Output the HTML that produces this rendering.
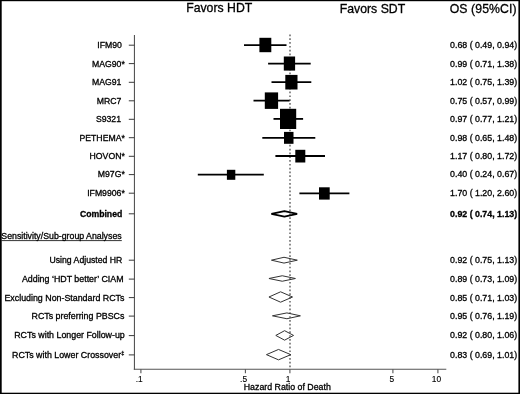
<!DOCTYPE html>
<html lang="en"><head><meta charset="utf-8"><title>Forest plot</title>
<style>
html,body{margin:0;padding:0;background:#fff;}
body{width:520px;height:394px;overflow:hidden;position:relative;}
svg{position:absolute;left:0;top:0;display:block;}
text{font-family:"Liberation Sans",Arial,Helvetica,sans-serif;fill:#000;stroke:#000;stroke-width:0.3px;}
.t{font-size:8.80px;}.l{font-size:8.85px;}.s{font-size:8.68px;}
.h{font-size:12.25px;}
.b{font-weight:bold;}
.a{font-size:8.4px;stroke-width:0.12px;}
</style></head><body>
<svg width="520" height="394" viewBox="0 0 520 394">
<rect x="0" y="0" width="520" height="394" fill="#fff"/>
<g stroke="#555" stroke-width="1.1" fill="none">
<line x1="134.45" y1="35" x2="134.45" y2="369.8"/>
<line x1="133.8" y1="369.2" x2="446.3" y2="369.2"/>
<line x1="128.8" y1="45.2" x2="134.4" y2="45.2" stroke-width="1" stroke="#3a3a3a"/>
<line x1="128.8" y1="63.6" x2="134.4" y2="63.6" stroke-width="1" stroke="#3a3a3a"/>
<line x1="128.8" y1="82.3" x2="134.4" y2="82.3" stroke-width="1" stroke="#3a3a3a"/>
<line x1="128.8" y1="100.8" x2="134.4" y2="100.8" stroke-width="1" stroke="#3a3a3a"/>
<line x1="128.8" y1="119.3" x2="134.4" y2="119.3" stroke-width="1" stroke="#3a3a3a"/>
<line x1="128.8" y1="137.7" x2="134.4" y2="137.7" stroke-width="1" stroke="#3a3a3a"/>
<line x1="128.8" y1="156.3" x2="134.4" y2="156.3" stroke-width="1" stroke="#3a3a3a"/>
<line x1="128.8" y1="174.6" x2="134.4" y2="174.6" stroke-width="1" stroke="#3a3a3a"/>
<line x1="128.8" y1="193.2" x2="134.4" y2="193.2" stroke-width="1" stroke="#3a3a3a"/>
<line x1="128.8" y1="213.8" x2="134.4" y2="213.8" stroke-width="1" stroke="#3a3a3a"/>
<line x1="128.8" y1="260.2" x2="134.4" y2="260.2" stroke-width="1" stroke="#3a3a3a"/>
<line x1="128.8" y1="279.1" x2="134.4" y2="279.1" stroke-width="1" stroke="#3a3a3a"/>
<line x1="128.8" y1="297.6" x2="134.4" y2="297.6" stroke-width="1" stroke="#3a3a3a"/>
<line x1="128.8" y1="316.1" x2="134.4" y2="316.1" stroke-width="1" stroke="#3a3a3a"/>
<line x1="128.8" y1="335.6" x2="134.4" y2="335.6" stroke-width="1" stroke="#3a3a3a"/>
<line x1="128.8" y1="354.9" x2="134.4" y2="354.9" stroke-width="1" stroke="#3a3a3a"/>
<line x1="140.9" y1="369.2" x2="140.9" y2="373.2"/>
<line x1="245.4" y1="369.2" x2="245.4" y2="373.2"/>
<line x1="289.9" y1="369.2" x2="289.9" y2="373.2"/>
<line x1="392.9" y1="369.2" x2="392.9" y2="373.2"/>
<line x1="437.9" y1="369.2" x2="437.9" y2="373.2"/>
</g>
<line x1="290" y1="34.5" x2="290" y2="368.5" stroke="#484848" stroke-width="1.25" stroke-dasharray="1.7 2.106"/>
<line x1="244.0" y1="45.1" x2="286.5" y2="45.1" stroke="#000" stroke-width="1.8"/>
<rect x="259.4" y="37.8" width="11.9" height="14.4" fill="#000"/>
<line x1="268.1" y1="63.6" x2="310.7" y2="63.6" stroke="#000" stroke-width="1.8"/>
<rect x="283.8" y="56.5" width="11.3" height="14.1" fill="#000"/>
<line x1="271.5" y1="82.2" x2="311.3" y2="82.2" stroke="#000" stroke-width="1.8"/>
<rect x="285.3" y="74.9" width="12.2" height="14.6" fill="#000"/>
<line x1="253.5" y1="100.6" x2="289.6" y2="100.6" stroke="#000" stroke-width="1.8"/>
<rect x="264.8" y="92.4" width="13.3" height="16.5" fill="#000"/>
<line x1="273.5" y1="118.9" x2="303.1" y2="118.9" stroke="#000" stroke-width="1.8"/>
<rect x="280.0" y="108.8" width="16.2" height="20.2" fill="#000"/>
<line x1="262.3" y1="137.8" x2="315.3" y2="137.8" stroke="#000" stroke-width="1.8"/>
<rect x="284.0" y="131.9" width="9.5" height="11.9" fill="#000"/>
<line x1="275.4" y1="156.0" x2="325.0" y2="156.0" stroke="#000" stroke-width="1.8"/>
<rect x="295.3" y="149.8" width="10.0" height="12.7" fill="#000"/>
<line x1="197.8" y1="174.7" x2="263.8" y2="174.7" stroke="#000" stroke-width="1.8"/>
<rect x="226.9" y="169.8" width="8.4" height="10.0" fill="#000"/>
<line x1="299.4" y1="193.4" x2="349.4" y2="193.4" stroke="#000" stroke-width="1.8"/>
<rect x="319.0" y="187.3" width="10.7" height="12.3" fill="#000"/>
<polygon points="271.36,213.88 284.40,211.18 297.14,213.88 284.40,216.57" fill="none" stroke="#000" stroke-width="1.80" stroke-linejoin="bevel"/>
<polygon points="271.45,260.18 284.00,257.27 297.30,260.18 284.00,263.08" fill="none" stroke="#333" stroke-width="1.00" stroke-linejoin="bevel"/>
<polygon points="268.95,278.50 282.25,275.76 295.40,278.50 282.25,281.24" fill="none" stroke="#333" stroke-width="1.00" stroke-linejoin="bevel"/>
<polygon points="268.95,297.00 280.60,291.81 292.55,297.00 280.60,302.19" fill="none" stroke="#333" stroke-width="1.00" stroke-linejoin="bevel"/>
<polygon points="272.45,315.82 286.90,312.91 300.40,315.82 286.90,318.74" fill="none" stroke="#333" stroke-width="1.00" stroke-linejoin="bevel"/>
<polygon points="275.80,335.43 284.60,330.68 293.55,335.43 284.60,340.17" fill="none" stroke="#333" stroke-width="1.00" stroke-linejoin="bevel"/>
<polygon points="266.45,354.65 278.50,349.45 290.80,354.65 278.50,359.85" fill="none" stroke="#333" stroke-width="1.00" stroke-linejoin="bevel"/>
<text class="h" x="186.2" y="11.9">Favors HDT</text>
<text class="h" x="339.8" y="12.5">Favors SDT</text>
<text class="h" x="449.7" y="12.6" letter-spacing="0.1">OS (95%CI)</text>
<text class="s" text-anchor="end" x="121.9" y="48.1">IFM90</text>
<text class="s" text-anchor="end" x="124.8" y="66.5">MAG90*</text>
<text class="s" text-anchor="end" x="121.4" y="85.2">MAG91</text>
<text class="s" text-anchor="end" x="121.4" y="103.6">MRC7</text>
<text class="s" text-anchor="end" x="121.0" y="122.2">S9321</text>
<text class="s" text-anchor="end" x="124.8" y="140.5">PETHEMA*</text>
<text class="s" text-anchor="end" x="124.8" y="159.2">HOVON*</text>
<text class="s" text-anchor="end" x="124.8" y="177.4">M97G*</text>
<text class="s" text-anchor="end" x="124.8" y="196.1">IFM9906*</text>
<text class="s b" text-anchor="end" x="122.3" y="216.7">Combined</text>
<text class="s" text-anchor="end" x="122.3" y="263.1">Using Adjusted HR</text>
<text class="l" text-anchor="end" x="123.5" y="282.0">Adding ‘HDT better’ CIAM</text>
<text class="l" text-anchor="end" x="124.4" y="300.5">Excluding Non-Standard RCTs</text>
<text class="l" text-anchor="end" x="124.4" y="319.0">RCTs preferring PBSCs</text>
<text class="l" text-anchor="end" x="124.8" y="338.4">RCTs with Longer Follow-up</text>
<text class="l" text-anchor="end" x="124.2" y="357.7">RCTs with Lower Crossover<tspan font-size="5.5px" dy="-3">‡</tspan></text>
<text class="l" style="font-size:8.78px" x="1.3" y="239.4">Sensitivity/Sub-group Analyses</text>
<line x1="1.5" y1="240.6" x2="121.8" y2="240.6" stroke="#000" stroke-width="0.8"/>
<text class="t" x="450.1" y="48.1">0.68 ( 0.49, 0.94)</text>
<text class="t" x="450.1" y="66.5">0.99 ( 0.71, 1.38)</text>
<text class="t" x="450.1" y="85.2">1.02 ( 0.75, 1.39)</text>
<text class="t" x="450.1" y="103.6">0.75 ( 0.57, 0.99)</text>
<text class="t" x="450.1" y="122.2">0.97 ( 0.77, 1.21)</text>
<text class="t" x="450.1" y="140.5">0.98 ( 0.65, 1.48)</text>
<text class="t" x="450.1" y="159.2">1.17 ( 0.80, 1.72)</text>
<text class="t" x="450.1" y="177.4">0.40 ( 0.24, 0.67)</text>
<text class="t" x="450.1" y="196.1">1.70 ( 1.20, 2.60)</text>
<text class="t b" x="450.1" y="216.7">0.92 ( 0.74, 1.13)</text>
<text class="t" x="450.1" y="263.1">0.92 ( 0.75, 1.13)</text>
<text class="t" x="450.1" y="282.0">0.89 ( 0.73, 1.09)</text>
<text class="t" x="450.1" y="300.5">0.85 ( 0.71, 1.03)</text>
<text class="t" x="450.1" y="319.0">0.95 ( 0.76, 1.19)</text>
<text class="t" x="450.1" y="338.4">0.92 ( 0.80, 1.06)</text>
<text class="t" x="450.1" y="357.7">0.83 ( 0.69, 1.01)</text>
<text class="a" text-anchor="middle" x="139.3" y="381.5">.1</text>
<text class="a" text-anchor="middle" x="243.6" y="381.5">.5</text>
<text class="a" text-anchor="middle" x="288.0" y="381.5">1</text>
<text class="a" text-anchor="middle" x="391.9" y="381.5">5</text>
<text class="a" text-anchor="middle" x="436.5" y="381.5">10</text>
<text class="t" text-anchor="middle" x="287.3" y="389.9">Hazard Ratio of Death</text>
<rect x="0" y="0" width="520" height="1.2" fill="#000"/>
<rect x="0" y="0" width="1.7" height="394" fill="#000"/>
<rect x="518.4" y="0" width="1.6" height="394" fill="#000"/>
<rect x="0" y="392.7" width="520" height="1.3" fill="#000"/>
</svg>
</body></html>
